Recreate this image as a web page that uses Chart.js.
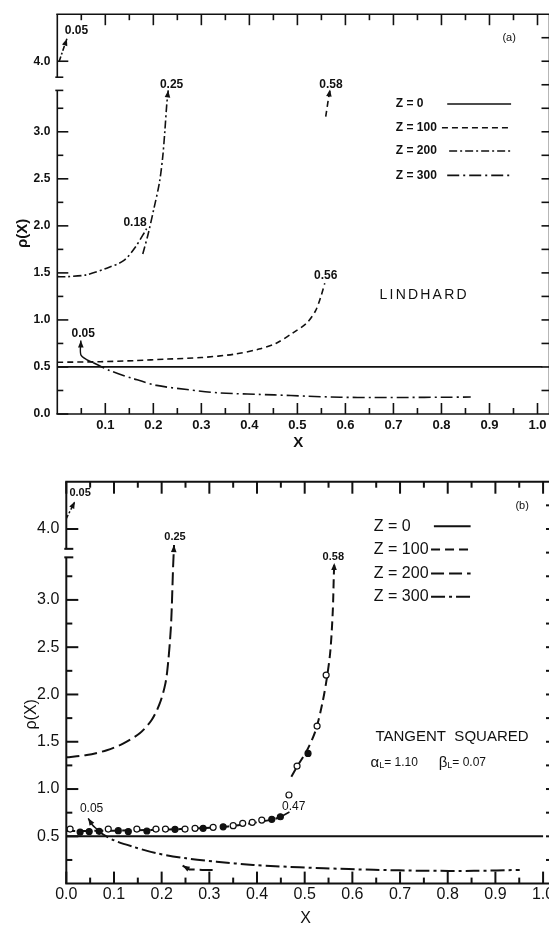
<!DOCTYPE html>
<html>
<head>
<meta charset="utf-8">
<script src="https://cdn.jsdelivr.net/npm/chart.js@4.4.1/dist/chart.umd.min.js"></script>
<style>
  html, body { margin: 0; padding: 0; background: #fff; width: 549px; height: 927px; overflow: hidden; }
  .panel { position: absolute; left: 0; }
  .panel canvas { display: block; }
  #panelA { top: 0; }
  #panelB { top: 460px; }
</style>
</head>
<body>
<div class="panel" id="panelA"><canvas id="chartA" width="560" height="460"></canvas></div>
<div class="panel" id="panelB"><canvas id="chartB" width="570" height="467"></canvas></div>
<script>
const INK = '#111';
const FONT = "'Liberation Sans', Arial, sans-serif";

// broken y axis: everything above the break is pulled down by 0.25
const BREAK_AT = 3.75;
const BREAK_SHIFT = 0.25;
const toAxis = (v) => (v > BREAK_AT ? v - BREAK_SHIFT : v);

// ---------- shared tick positions ----------
const X_MINOR = [0.05, 0.15, 0.25, 0.35, 0.45, 0.55, 0.65, 0.75, 0.85, 0.95];
const Y_MINOR = [0.25, 0.75, 1.25, 1.75, 2.25, 2.75, 3.25];
const Y_RIGHT_EXTRA = [3.5, 4.25];

// ---------- panel (a): Lindhard ----------
const A_X_TICKS = [0.1, 0.2, 0.3, 0.4, 0.5, 0.6, 0.7, 0.8, 0.9, 1.0];
const A_X_LABELS = ['0.1', '0.2', '0.3', '0.4', '0.5', '0.6', '0.7', '0.8', '0.9', '1.0'];
const A_Y_TICKS = [0.0, 0.5, 1.0, 1.5, 2.0, 2.5, 3.0, 4.0];
const A_Y_LABELS = ['0.0', '0.5', '1.0', '1.5', '2.0', '2.5', '3.0', '4.0'];

const A_Z0_X = [0, 1.01];
const A_Z0_Y = [0.5, 0.5];
const A_Z100_LO_X = [0.0, 0.09, 0.16, 0.23, 0.30, 0.37, 0.42, 0.455, 0.49, 0.52, 0.538, 0.549, 0.557];
const A_Z100_LO_Y = [0.55, 0.556, 0.567, 0.584, 0.60, 0.637, 0.69, 0.75, 0.86, 0.97, 1.10, 1.25, 1.39];
const A_Z100_HI_X = [0.559, 0.564, 0.568];
const A_Z100_HI_Y = [3.16, 3.33, 3.45];
const A_Z200_1_X = [0.0, 0.02, 0.061, 0.103, 0.138, 0.162, 0.186];
const A_Z200_1_Y = [1.46, 1.46, 1.48, 1.55, 1.63, 1.77, 1.97];
const A_Z200_2_X = [0.178, 0.19, 0.201, 0.2125, 0.2196, 0.224, 0.228, 0.231];
const A_Z200_2_Y = [1.70, 1.93, 2.18, 2.455, 2.736, 3.01, 3.295, 3.44];
const A_Z300_TOP_X = [0.004, 0.02];
const A_Z300_TOP_Y = [4.0, 4.24];
const A_Z300_STUB_X = [0.049, 0.049, 0.062, 0.075];
const A_Z300_STUB_Y = [0.78, 0.63, 0.575, 0.545];
const A_Z300_LO_X = [0.075, 0.11, 0.159, 0.207, 0.27, 0.339, 0.452, 0.521, 0.59, 0.66, 0.729, 0.8, 0.861];
const A_Z300_LO_Y = [0.545, 0.46, 0.375, 0.304, 0.26, 0.224, 0.203, 0.189, 0.178, 0.175, 0.176, 0.178, 0.18];

// ---------- panel (b): tangent squared ----------
const B_X_TICKS = [0.0, 0.1, 0.2, 0.3, 0.4, 0.5, 0.6, 0.7, 0.8, 0.9, 1.0];
const B_X_LABELS = ['0.0', '0.1', '0.2', '0.3', '0.4', '0.5', '0.6', '0.7', '0.8', '0.9', '1.0'];
const B_Y_TICKS = [0.5, 1.0, 1.5, 2.0, 2.5, 3.0, 4.0];
const B_Y_LABELS = ['0.5', '1.0', '1.5', '2.0', '2.5', '3.0', '4.0'];

const B_Z0_X = [0, 1.0];
const B_Z0_Y = [0.5, 0.5];
const B_Z100_LO_X = [0.0, 0.1, 0.2, 0.28, 0.34, 0.39, 0.43, 0.452];
const B_Z100_LO_Y = [0.555, 0.56, 0.57, 0.585, 0.605, 0.64, 0.675, 0.707];
const B_Z100_HI_X = [0.472, 0.488, 0.505, 0.523, 0.537, 0.547, 0.554, 0.559, 0.561, 0.562];
const B_Z100_HI_Y = [1.13, 1.27, 1.41, 1.62, 1.906, 2.19, 2.47, 2.89, 3.24, 3.39];
const B_Z200_X = [0.0, 0.043, 0.085, 0.119, 0.154, 0.179, 0.196, 0.208, 0.214, 0.219, 0.221, 0.224, 0.226];
const B_Z200_Y = [1.335, 1.36, 1.41, 1.48, 1.59, 1.73, 1.905, 2.12, 2.36, 2.68, 2.89, 3.35, 3.58];
const B_Z200_LO_X = [0.244, 0.258, 0.285, 0.315];
const B_Z200_LO_Y = [0.19, 0.15, 0.145, 0.145];
const B_Z300_TOP_X = [0.0, 0.018];
const B_Z300_TOP_Y = [4.11, 4.29];
const B_Z300_STUB_X = [0.046, 0.054, 0.064];
const B_Z300_STUB_Y = [0.69, 0.625, 0.575];
const B_Z300_LO_X = [0.064, 0.071, 0.099, 0.14, 0.19, 0.252, 0.315, 0.392, 0.438, 0.54, 0.645, 0.75, 0.855, 0.951];
const B_Z300_LO_Y = [0.575, 0.54, 0.46, 0.39, 0.32, 0.267, 0.232, 0.197, 0.184, 0.162, 0.146, 0.136, 0.135, 0.145];
const B_047_X = [0.468, 0.452];
const B_047_Y = [0.757, 0.712];
const B_OPEN_X = [0.008, 0.088, 0.148, 0.188, 0.208, 0.249, 0.27, 0.308, 0.35, 0.37, 0.39, 0.41, 0.467, 0.484, 0.526, 0.545];
const B_OPEN_Y = [0.577, 0.577, 0.577, 0.577, 0.577, 0.577, 0.585, 0.595, 0.613, 0.637, 0.648, 0.672, 0.937, 1.243, 1.666, 2.205];
const B_FILLED_X = [0.029, 0.048, 0.069, 0.109, 0.13, 0.169, 0.228, 0.287, 0.329, 0.431, 0.449, 0.507];
const B_FILLED_Y = [0.545, 0.55, 0.553, 0.56, 0.55, 0.556, 0.574, 0.585, 0.60, 0.68, 0.707, 1.377];

const pts = (xs, ys) => xs.map((x, i) => ({ x, y: toAxis(ys[i]) }));

function curve(xs, ys, dash, width, extra) {
  return Object.assign({
    data: pts(xs, ys),
    showLine: true,
    borderColor: INK,
    borderWidth: width,
    borderDash: dash,
    pointRadius: 0,
    tension: 0.3,
    fill: false
  }, extra || {});
}

function markers(xs, ys, fillColor) {
  return {
    data: pts(xs, ys),
    showLine: false,
    pointStyle: 'circle',
    pointRadius: 3,
    pointBorderWidth: 1.2,
    pointBorderColor: INK,
    pointBackgroundColor: fillColor
  };
}

// line styles per panel
const A_DASH = { z0: [], z100: [6, 4], z200: [8, 3, 2, 3], z300: [12, 4, 2, 4] };
const B_DASH = { z0: [], z100: [9, 5], z200: [13, 5], z300: [14, 4, 3, 4] };

const arrowPlugin = {
  id: 'arrows',
  afterDatasetsDraw(chart) {
    const ctx = chart.ctx;
    chart.data.datasets.forEach((ds, i) => {
      if (!ds.arrow) return;
      const el = chart.getDatasetMeta(i).data;
      const tip = ds.arrow === 'end' ? el[el.length - 1] : el[0];
      const prev = ds.arrow === 'end' ? el[el.length - 2] : el[1];
      const ang = Math.atan2(tip.y - prev.y, tip.x - prev.x);
      const len = 7, half = 2.8;
      const bx = tip.x - len * Math.cos(ang), by = tip.y - len * Math.sin(ang);
      ctx.save();
      ctx.fillStyle = INK;
      ctx.beginPath();
      ctx.moveTo(tip.x, tip.y);
      ctx.lineTo(bx + half * Math.sin(ang), by - half * Math.cos(ang));
      ctx.lineTo(bx - half * Math.sin(ang), by + half * Math.cos(ang));
      ctx.closePath();
      ctx.fill();
      ctx.restore();
    });
  }
};

// frame with inward ticks and the y-axis break
const framePlugin = {
  id: 'frame',
  afterDraw(chart, args, o) {
    const { ctx, chartArea: a, scales: { x, y } } = chart;
    const line = (x1, y1, x2, y2) => { ctx.beginPath(); ctx.moveTo(x1, y1); ctx.lineTo(x2, y2); ctx.stroke(); };
    ctx.save();
    ctx.strokeStyle = INK;
    ctx.lineWidth = o.lw;
    line(a.left - 1, a.top, a.right, a.top);
    line(a.left - 1, a.bottom, a.right, a.bottom);
    line(a.right, a.top, a.right, a.bottom);
    const yLo = y.getPixelForValue(o.breakLo);
    const yHi = y.getPixelForValue(o.breakHi);
    line(a.left, a.bottom, a.left, yLo);
    line(a.left, yHi, a.left, a.top);
    line(a.left - 2, yLo, a.left + o.serif, yLo);
    line(a.left - 2, yHi, a.left + o.serif, yHi);
    o.xMajor.forEach((v) => {
      const px = x.getPixelForValue(v);
      line(px, a.bottom, px, a.bottom - o.major);
      line(px, a.top, px, a.top + o.major);
    });
    X_MINOR.forEach((v) => {
      const px = x.getPixelForValue(v);
      line(px, a.bottom, px, a.bottom - o.minor);
      line(px, a.top, px, a.top + o.minor);
    });
    o.yMajor.forEach((v) => {
      const py = y.getPixelForValue(toAxis(v));
      line(a.left, py, a.left + o.major, py);
    });
    Y_MINOR.forEach((v) => {
      const py = y.getPixelForValue(toAxis(v));
      line(a.left, py, a.left + o.minor, py);
    });
    o.yMajor.concat(Y_MINOR, Y_RIGHT_EXTRA).forEach((v) => {
      if (v === 0) return;
      const py = y.getPixelForValue(toAxis(v));
      line(a.right, py, a.right - o.right, py);
    });
    ctx.restore();
  }
};

// annotations, legend and axis titles
const notesPlugin = {
  id: 'notes',
  afterDraw(chart, args, o) {
    const { ctx, chartArea: a, scales: { x, y } } = chart;
    ctx.save();
    ctx.fillStyle = INK;
    ctx.strokeStyle = INK;
    ctx.textBaseline = 'middle';
    o.items.forEach((n) => {
      let px = x.getPixelForValue(n.x);
      const py = y.getPixelForValue(toAxis(n.y));
      if (n.runs) {
        ctx.textAlign = 'left';
        n.runs.forEach((r) => {
          ctx.font = `${r.size}px ${FONT}`;
          ctx.fillText(r.t, px, py + (r.dy || 0));
          px += ctx.measureText(r.t).width + (r.gap || 0);
        });
        return;
      }
      ctx.font = `${n.weight || o.weight} ${n.size || o.size}px ${FONT}`;
      ctx.letterSpacing = (n.spacing || 0) + 'px';
      ctx.textAlign = 'center';
      ctx.fillText(n.text, px, py);
      ctx.letterSpacing = '0px';
    });

    const L = o.legend;
    L.labels.forEach((lab, i) => {
      const py = y.getPixelForValue(L.rows[i]);
      ctx.font = `${L.weight} ${L.size}px ${FONT}`;
      ctx.textAlign = 'left';
      ctx.fillText(lab, x.getPixelForValue(L.x), py);
      ctx.lineWidth = L.lw;
      ctx.setLineDash(L.dashes[i]);
      line(x.getPixelForValue(L.x1[i]), py, x.getPixelForValue(L.x2), py);
    });
    ctx.setLineDash([]);

    const t = o.titles;
    ctx.textAlign = 'center';
    ctx.font = `${t.weight} ${t.size}px ${FONT}`;
    ctx.fillText('X', x.getPixelForValue(t.xAt), a.bottom + t.xDy);
    ctx.translate(a.left + t.yDx, y.getPixelForValue(t.yAt));
    ctx.rotate(-Math.PI / 2);
    ctx.fillText('\u03C1(X)', 0, 0);
    ctx.restore();

    function line(x1, y1, x2, y2) { ctx.beginPath(); ctx.moveTo(x1, y1); ctx.lineTo(x2, y2); ctx.stroke(); }
  }
};

function makeChart(id, cfg) {
  return new Chart(document.getElementById(id), {
    type: 'scatter',
    data: { datasets: cfg.datasets },
    options: {
      responsive: false,
      animation: false,
      events: [],
      layout: { padding: cfg.padding },
      scales: {
        x: {
          type: 'linear', min: 0, max: cfg.xMax,
          grid: { display: false, drawTicks: false },
          border: { display: false },
          afterBuildTicks: (s) => { s.ticks = cfg.xTicks.map((v) => ({ value: v })); },
          afterFit: (s) => { s.height = cfg.xHeight; },
          ticks: {
            autoSkip: false, maxRotation: 0, padding: cfg.xPad, color: INK,
            font: { family: FONT, size: cfg.xFont, weight: cfg.tickWeight },
            callback: (v, i) => cfg.xLabels[i]
          }
        },
        y: {
          type: 'linear', min: 0, max: 4.25,
          grid: { display: false, drawTicks: false },
          border: { display: false },
          afterBuildTicks: (s) => { s.ticks = cfg.yTicks.map((v) => ({ value: toAxis(v) })); },
          afterFit: (s) => { s.width = cfg.yWidth; },
          ticks: {
            autoSkip: false, padding: cfg.yPad, color: INK,
            font: { family: FONT, size: cfg.yFont, weight: cfg.tickWeight },
            callback: (v, i) => cfg.yLabels[i]
          }
        }
      },
      plugins: {
        legend: { display: false },
        tooltip: { enabled: false },
        frame: cfg.frame,
        notes: cfg.notes
      }
    },
    plugins: [framePlugin, arrowPlugin, notesPlugin]
  });
}

document.addEventListener('DOMContentLoaded', () => {
  const wa = 1.6;
  makeChart('chartA', {
    padding: { top: 9, right: 10.5, left: 0, bottom: 0 },
    xMax: 1.025, xHeight: 46, xPad: 4, xFont: 13, tickWeight: 'bold',
    yWidth: 57.3, yPad: 7, yFont: 12,
    xTicks: A_X_TICKS, xLabels: A_X_LABELS, yTicks: A_Y_TICKS, yLabels: A_Y_LABELS,
    datasets: [
      curve(A_Z0_X, A_Z0_Y, A_DASH.z0, 1.8),
      curve(A_Z100_LO_X, A_Z100_LO_Y, A_DASH.z100, wa),
      curve(A_Z100_HI_X, A_Z100_HI_Y, A_DASH.z100, wa, { arrow: 'end' }),
      curve(A_Z200_1_X, A_Z200_1_Y, A_DASH.z200, wa),
      curve(A_Z200_2_X, A_Z200_2_Y, A_DASH.z200, wa, { arrow: 'end' }),
      curve(A_Z300_TOP_X, A_Z300_TOP_Y, [5, 2, 2, 2], wa, { arrow: 'end', tension: 0 }),
      curve(A_Z300_STUB_X, A_Z300_STUB_Y, [], 1.4, { arrow: 'start' }),
      curve(A_Z300_LO_X, A_Z300_LO_Y, A_DASH.z300, wa)
    ],
    frame: {
      lw: 1.6, major: 11, minor: 6, right: 8, serif: 6,
      breakLo: 3.44, breakHi: 3.58, xMajor: A_X_TICKS, yMajor: A_Y_TICKS
    },
    notes: {
      size: 12, weight: 'bold',
      items: [
        { text: '0.05', x: 0.04, y: 4.32 },
        { text: '0.25', x: 0.238, y: 3.505 },
        { text: '0.58', x: 0.57, y: 3.505 },
        { text: '0.18', x: 0.162, y: 2.036 },
        { text: '0.56', x: 0.559, y: 1.469 },
        { text: '0.05', x: 0.054, y: 0.857 },
        { text: '(a)', x: 0.941, y: 4.245, size: 11, weight: 'normal' },
        { text: 'LINDHARD', x: 0.764, y: 1.267, size: 14, spacing: 2.2, weight: 'normal' }
      ],
      legend: {
        size: 12, weight: 'bold', lw: 1.6, x: 0.705,
        labels: ['Z = 0', 'Z = 100', 'Z = 200', 'Z = 300'],
        rows: [3.295, 3.043, 2.795, 2.537],
        x1: [0.812, 0.801, 0.816, 0.812], x2: 0.945,
        dashes: [A_DASH.z0, A_DASH.z100, A_DASH.z200, A_DASH.z300]
      },
      titles: { size: 15, weight: 'bold', xAt: 0.502, xDy: 29, yDx: -34.5, yAt: 1.92 }
    }
  });

  const wb = 2;
  makeChart('chartB', {
    padding: { top: 21.7, right: 15, left: 0, bottom: 0 },
    xMax: 1.025, xHeight: 43.4, xPad: 1, xFont: 16, tickWeight: 'normal',
    yWidth: 66.3, yPad: 7, yFont: 16,
    xTicks: B_X_TICKS, xLabels: B_X_LABELS, yTicks: B_Y_TICKS, yLabels: B_Y_LABELS,
    datasets: [
      markers(B_OPEN_X, B_OPEN_Y, '#ffffff'),
      markers(B_FILLED_X, B_FILLED_Y, INK),
      curve(B_Z0_X, B_Z0_Y, B_DASH.z0, 2),
      curve(B_Z100_LO_X, B_Z100_LO_Y, B_DASH.z100, wb),
      curve(B_Z100_HI_X, B_Z100_HI_Y, B_DASH.z100, wb, { arrow: 'end' }),
      curve(B_047_X, B_047_Y, [], 1.5, { tension: 0 }),
      curve(B_Z200_X, B_Z200_Y, B_DASH.z200, wb, { arrow: 'end' }),
      curve(B_Z200_LO_X, B_Z200_LO_Y, B_DASH.z200, wb, { arrow: 'start', tension: 0 }),
      curve(B_Z300_TOP_X, B_Z300_TOP_Y, [4, 2, 2, 2], 1.5, { arrow: 'end', tension: 0 }),
      curve(B_Z300_STUB_X, B_Z300_STUB_Y, [], 1.5, { arrow: 'start' }),
      curve(B_Z300_LO_X, B_Z300_LO_Y, B_DASH.z300, wb)
    ],
    frame: {
      lw: 2, major: 12, minor: 6, right: 9, serif: 7,
      breakLo: 3.45, breakHi: 3.54, xMajor: B_X_TICKS, yMajor: B_Y_TICKS
    },
    notes: {
      size: 11, weight: 'normal',
      items: [
        { text: '0.05', x: 0.029, y: 4.376, weight: 'bold' },
        { text: '0.25', x: 0.228, y: 3.667, weight: 'bold' },
        { text: '0.58', x: 0.56, y: 3.456, weight: 'bold' },
        { text: '0.05', x: 0.053, y: 0.789, size: 12 },
        { text: '0.47', x: 0.477, y: 0.813, size: 12 },
        { text: '(b)', x: 0.956, y: 4.245, size: 11 },
        { text: 'TANGENT  SQUARED', x: 0.809, y: 1.553, size: 15 },
        { x: 0.638, y: 1.278, runs: [{ t: '\u03B1', size: 15 }, { t: 'L', size: 9, dy: 3 }, { t: '= 1.10', size: 12 }] },
        { x: 0.781, y: 1.278, runs: [{ t: '\u03B2', size: 15 }, { t: 'L', size: 9, dy: 3 }, { t: '= 0.07', size: 12 }] }
      ],
      legend: {
        size: 16, weight: 'normal', lw: 2, x: 0.645,
        labels: ['Z = 0', 'Z = 100', 'Z = 200', 'Z = 300'],
        rows: [3.78, 3.533, 3.28, 3.033],
        x1: [0.771, 0.765, 0.765, 0.765], x2: 0.848,
        dashes: [B_DASH.z0, B_DASH.z100, B_DASH.z200, B_DASH.z300]
      },
      titles: { size: 16, weight: 'normal', xAt: 0.502, xDy: 34.5, yDx: -35, yAt: 1.79 }
    }
  });
});
</script>
</body>
</html>
